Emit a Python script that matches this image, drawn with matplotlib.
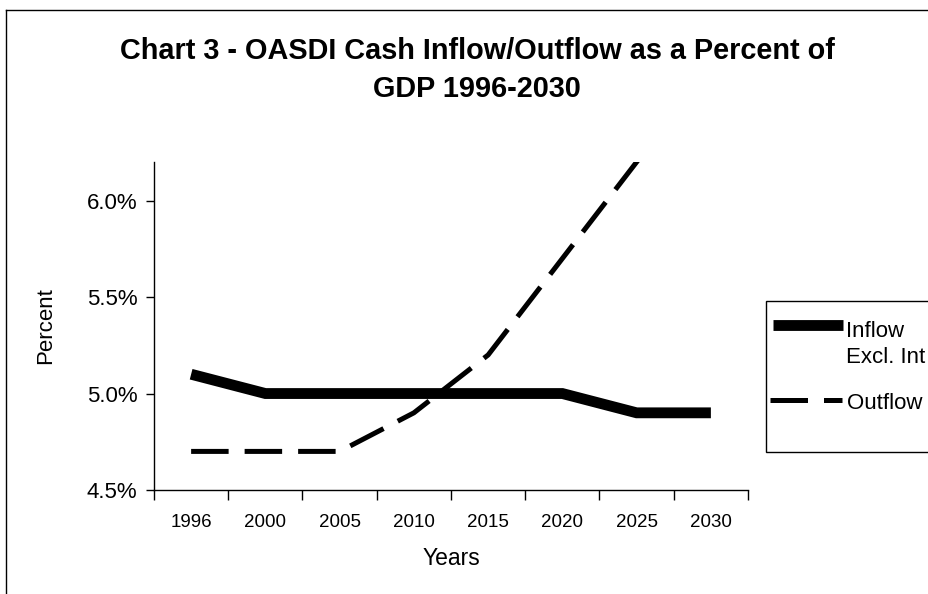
import numpy as np
import matplotlib
matplotlib.use("Agg")
import matplotlib.pyplot as plt
from matplotlib.lines import Line2D
from matplotlib.patches import Rectangle
from matplotlib.ticker import FuncFormatter

# Data
years = ["1996", "2000", "2005", "2010", "2015", "2020", "2025", "2030"]
inflow = [5.1, 5.0, 5.0, 5.0, 5.0, 5.0, 4.9, 4.9]
outflow = [4.7, 4.7, 4.7, 4.9, 5.2, 5.7, 6.2, 6.7]  # 2030 runs off the top of the chart

plt.rcParams['font.family'] = ['Liberation Sans', 'DejaVu Sans']

W, H = 929, 594
fig = plt.figure(figsize=(W / 100, H / 100), dpi=100)
fig.patch.set_facecolor('white')

# axes box in pixel terms
ax = fig.add_axes([154 / W, 1 - 490 / H, (748 - 154) / W, (490 - 162) / H])

x = np.arange(len(years))
inflow_style = dict(color='black', lw=7.8, solid_capstyle='butt', solid_joinstyle='miter')
outflow_style = dict(color='black', lw=3.6, dashes=(7.5, 3.2), dash_capstyle='butt')
ax.plot(x, inflow, **inflow_style)
ax.plot(x, outflow, **outflow_style)

ax.set_xlim(-0.5, len(years) - 0.5)
ax.set_ylim(4.5, 6.2)

# x ticks at category boundaries, labels at centres
ax.set_xticks(np.arange(-0.5, len(years), 1.0))
ax.set_xticklabels([])
ax.set_xticks(x, minor=True)
ax.set_xticklabels(years, minor=True, fontsize=13.5)
ax.tick_params(axis='x', which='major', direction='out', length=7, width=1)
ax.tick_params(axis='x', which='minor', length=0, pad=17)

ax.set_yticks([4.5, 5.0, 5.5, 6.0])
ax.yaxis.set_major_formatter(FuncFormatter(lambda v, p: "%.1f%%" % v))
ax.tick_params(axis='y', direction='out', length=6, width=1, labelsize=16, pad=6)

for s in ['top', 'right']:
    ax.spines[s].set_visible(False)
for s in ['left', 'bottom']:
    ax.spines[s].set_linewidth(1)

ax.set_xlabel("Years", fontsize=16.5, labelpad=12)
ax.set_ylabel("Percent", fontsize=16, labelpad=22)

fig.text(477 / W, 1 - 59 / H, "Chart 3 - OASDI Cash Inflow/Outflow as a Percent of",
         ha='center', va='baseline', fontsize=20.8, fontweight='bold')
fig.text(477 / W, 1 - 97 / H, "GDP 1996-2030",
         ha='center', va='baseline', fontsize=20.8, fontweight='bold')

# outer chart frame (only left and top edges are visible)
fig.add_artist(Line2D([6 / W, 6 / W], [0, 1 - 10 / H], transform=fig.transFigure, color='black', lw=1))
fig.add_artist(Line2D([6 / W, 1], [1 - 10 / H, 1 - 10 / H], transform=fig.transFigure, color='black', lw=1))

# legend box, running off the right edge
fig.add_artist(Rectangle((766 / W, 1 - 452 / H), 0.3, (452 - 301) / H, transform=fig.transFigure,
                         facecolor='white', edgecolor='black', lw=1))
fig.add_artist(Line2D([773 / W, 843 / W], [1 - 325 / H] * 2, transform=fig.transFigure, **inflow_style))
fig.add_artist(Line2D([770 / W, 842 / W], [1 - 400 / H] * 2, transform=fig.transFigure, **outflow_style))
fig.text(846 / W, 1 - 337 / H, "Inflow", ha='left', va='baseline', fontsize=16)
fig.text(846 / W, 1 - 363 / H, "Excl. Int", ha='left', va='baseline', fontsize=16)
fig.text(847 / W, 1 - 409 / H, "Outflow", ha='left', va='baseline', fontsize=16)

fig.savefig("out.png", dpi=100, facecolor='white')
